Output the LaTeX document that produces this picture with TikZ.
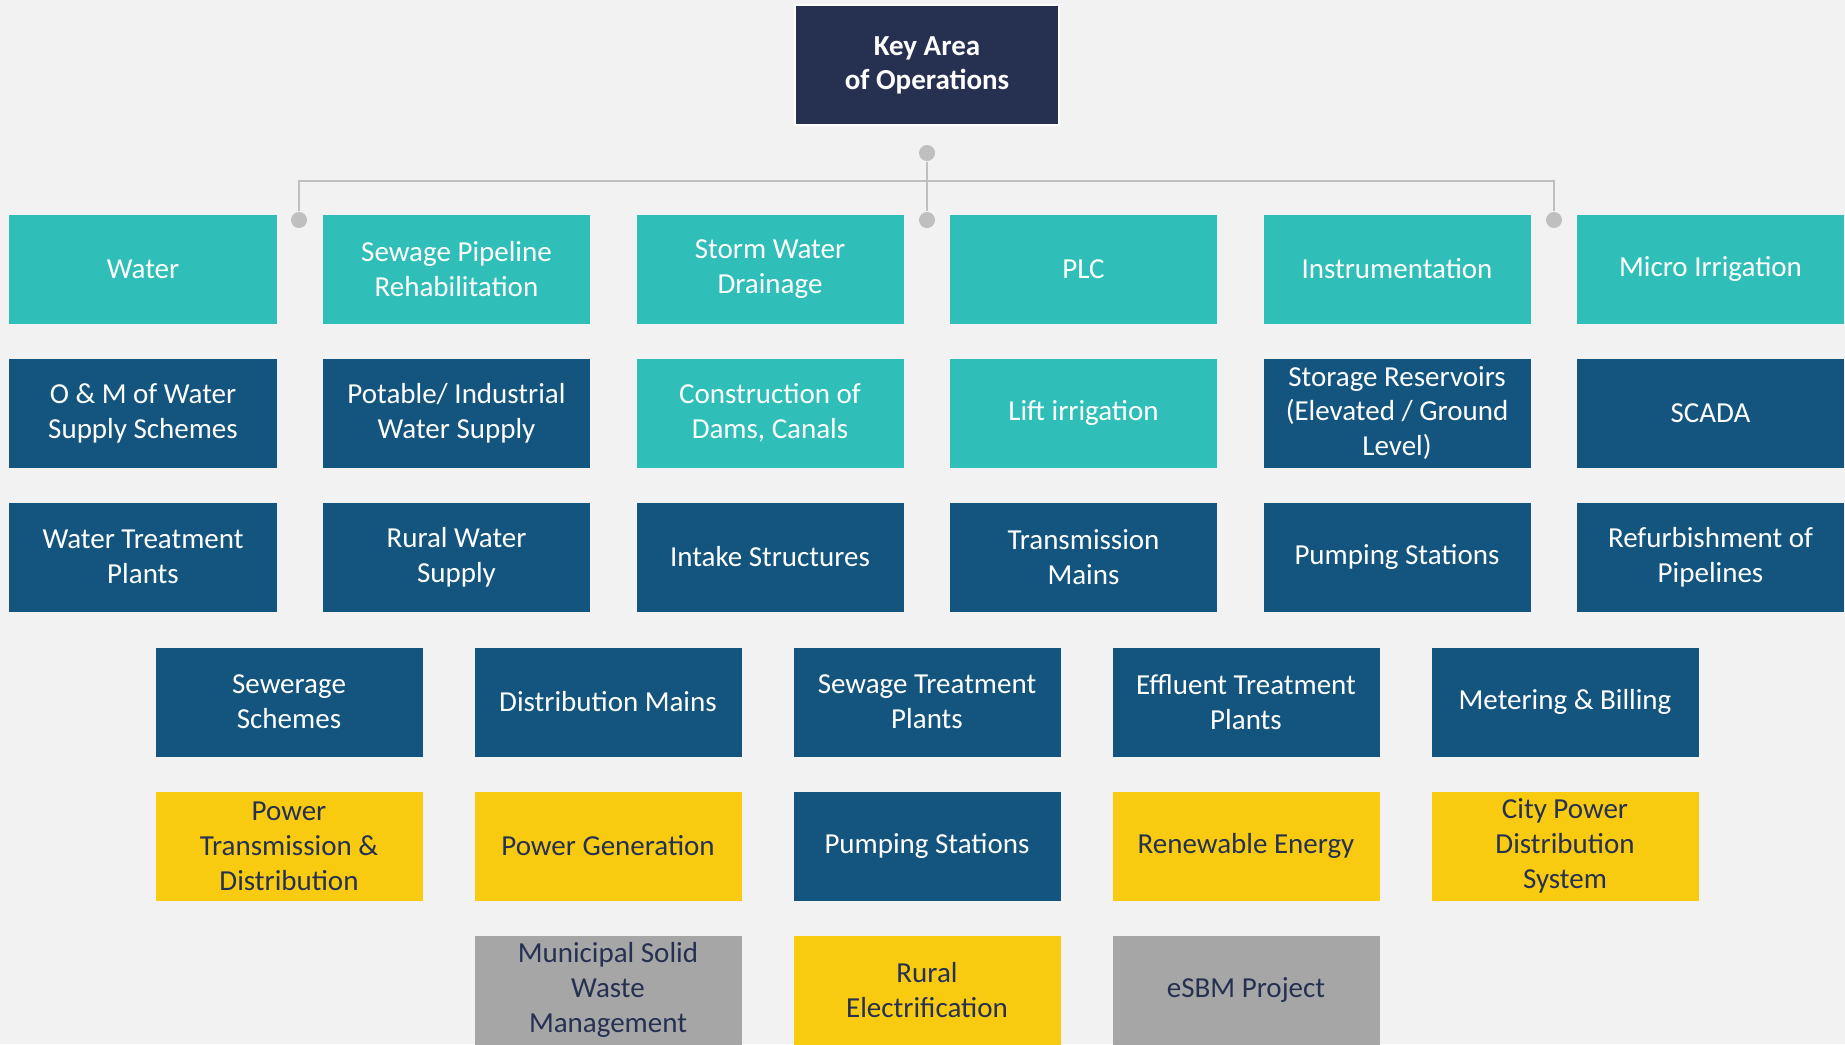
\documentclass[tikz,border=0pt]{standalone}
\usepackage{fontspec}
\setmainfont{Carlito}
\usepackage{xcolor}
\usepackage{tikz}
\usetikzlibrary{positioning}
\definecolor{kaobg}{HTML}{F2F2F2}
\definecolor{kaonavy}{HTML}{263152}
\definecolor{kaoteal}{HTML}{2FBFB8}
\definecolor{kaoblue}{HTML}{13557F}
\definecolor{kaoyellow}{HTML}{F9CB10}
\definecolor{kaogray}{HTML}{A6A6A6}
\definecolor{kaoline}{HTML}{BFBFBF}

\begin{document}
\begin{tikzpicture}[
  node distance=0.35cm and 0.465cm,
  cell/.style={minimum width=2.67cm,minimum height=1.09cm,inner sep=0pt,outer sep=0pt,
               align=center,font=\fontsize{8.25}{9.9}\selectfont},
  areabox/.style={cell,fill=kaoteal,text=white},
  projbox/.style={cell,fill=kaoblue,text=white},
  powerbox/.style={cell,fill=kaoyellow,text=kaonavy},
  greybox/.style={cell,fill=kaogray,text=kaonavy},
  rootbox/.style={draw=white,line width=0.6pt,fill=kaonavy,text=white,align=center,
                  minimum width=2.64cm,minimum height=1.2cm,inner sep=0pt,
                  font=\bfseries\fontsize{8.25}{9.7}\selectfont},
  link/.style={draw=kaoline,line width=0.6pt},
  dot/.style={circle,fill=kaoline,inner sep=0pt,minimum size=0.16cm}
]
  \fill[kaobg] (0,0) rectangle (18.45,-10.44);
  \useasboundingbox (0,0) rectangle (18.45,-10.44);

  \node[rootbox] (root) at (9.27,-0.65) {Key Area\\of Operations};

  % connector dots
  \node[dot] (d0) at (9.27,-1.53) {};
  \node[dot] (d1) at (2.99,-2.20) {};
  \node[dot] (d2) at (9.27,-2.20) {};
  \node[dot] (d3) at (15.54,-2.20) {};
  \coordinate (bus) at (9.27,-1.81);
  \draw[link] (d0) -- (d2);
  \draw[link] (d1) |- (bus) -| (d3);

  % first block
  \node[areabox] (water) at (1.43,-2.69) {Water};
  \node[areabox,right=of water] (sewpipe) {Sewage Pipeline\\Rehabilitation};
  \node[areabox,right=of sewpipe] (storm) {Storm Water\\Drainage};
  \node[areabox,right=of storm] (plc) {PLC};
  \node[areabox,right=of plc] (instr) {Instrumentation};
  \node[areabox,right=of instr] (micro) {Micro Irrigation};

  \node[projbox,below=of water] (om) {O \& M of Water\\Supply Schemes};
  \node[projbox,below=of sewpipe] (potable) {Potable/ Industrial\\Water Supply};
  \node[areabox,below=of storm] (dams) {Construction of\\Dams, Canals};
  \node[areabox,below=of plc] (lift) {Lift irrigation};
  \node[projbox,below=of instr] (storage) {Storage Reservoirs\\(Elevated / Ground\\Level)};
  \node[projbox,below=of micro] (scada) {SCADA};

  \node[projbox,below=of om] (wtp) {Water Treatment\\Plants};
  \node[projbox,below=of potable] (rural) {Rural Water\\Supply};
  \node[projbox,below=of dams] (intake) {Intake Structures};
  \node[projbox,below=of lift] (trans) {Transmission\\Mains};
  \node[projbox,below=of storage] (pumpa) {Pumping Stations};
  \node[projbox,below=of scada] (refurb) {Refurbishment of\\Pipelines};

  % second block
  \node[projbox] (sewer) at (2.89,-7.02) {Sewerage\\Schemes};
  \node[projbox,right=0.52cm of sewer] (distmain) {Distribution Mains};
  \node[projbox,right=0.52cm of distmain] (stp) {Sewage Treatment\\Plants};
  \node[projbox,right=0.52cm of stp] (etp) {Effluent Treatment\\Plants};
  \node[projbox,right=0.52cm of etp] (meter) {Metering \& Billing};

  \node[powerbox,below=of sewer] (ptd) {Power\\Transmission \&\\Distribution};
  \node[powerbox,below=of distmain] (pgen) {Power Generation};
  \node[projbox,below=of stp] (pumpb) {Pumping Stations};
  \node[powerbox,below=of etp] (renew) {Renewable Energy};
  \node[powerbox,below=of meter] (city) {City Power\\Distribution\\System};

  \node[greybox,below=of pgen] (msw) {Municipal Solid\\Waste\\Management};
  \node[powerbox,below=of pumpb] (relec) {Rural\\Electrification};
  \node[greybox,below=of renew] (esbm) {eSBM Project};
\end{tikzpicture}
\end{document}
